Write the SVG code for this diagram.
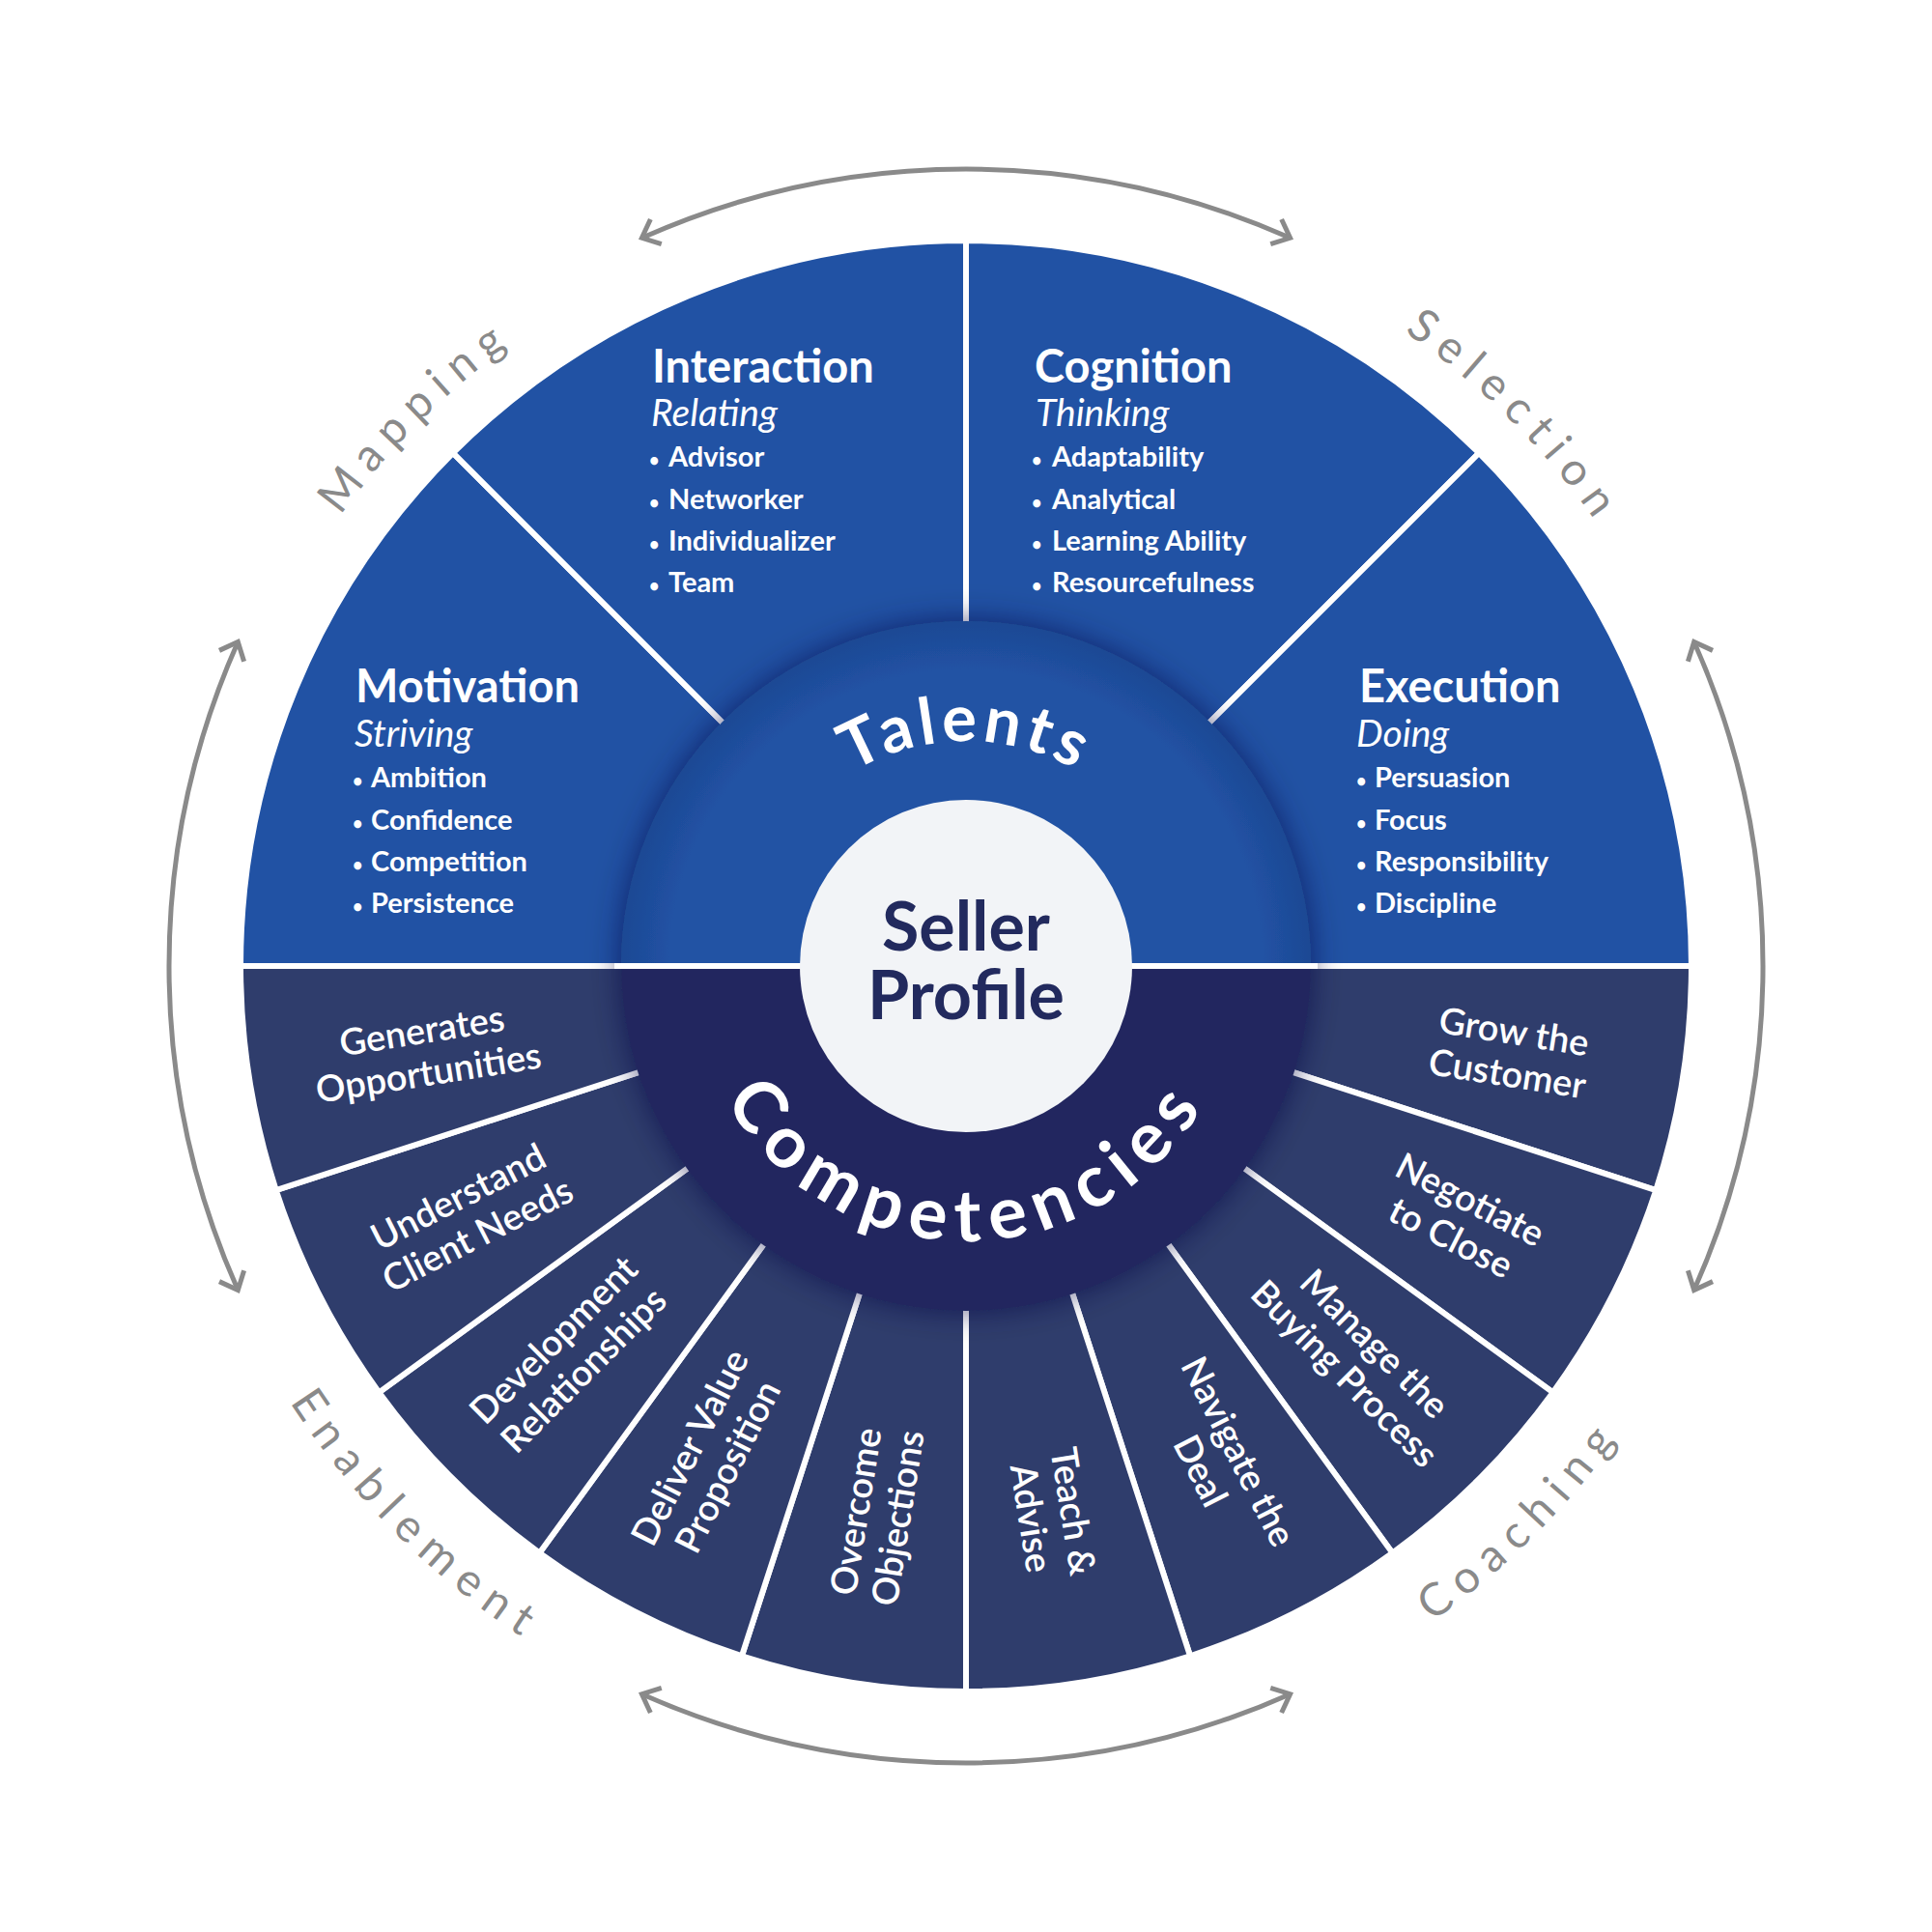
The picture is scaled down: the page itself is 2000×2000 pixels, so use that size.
<svg xmlns="http://www.w3.org/2000/svg" width="2000" height="2000" viewBox="0 0 2000 2000">
<defs>
<style>
.top{fill:#2152a4;stroke:#fff;stroke-width:6}
.bot{fill:#2f3d6c;stroke:#fff;stroke-width:6}
.h{font-family:Lato,"Open Sans",sans-serif;font-weight:700;font-size:47px;fill:#fff}
.sub{font-family:Lato,"Open Sans",sans-serif;font-style:italic;font-weight:400;font-size:39px;fill:#fff}
.li{font-family:Lato,"Open Sans",sans-serif;font-weight:700;font-size:29px;fill:#fff}
.bul{font-size:18px}
.seg{font-family:Lato,"Open Sans",sans-serif;font-weight:600;font-size:38px;fill:#fff;text-anchor:middle}
.lab{font-family:Lato,"Open Sans",sans-serif;font-weight:400;font-size:47px;fill:#8a8a8a;letter-spacing:11px}
.ring{font-family:Lato,"Open Sans",sans-serif;font-weight:700;fill:#fff}
.arc{fill:none;stroke:#8a8a8a;stroke-width:5;marker-start:url(#ah);marker-end:url(#ah)}
.core{font-family:Lato,"Open Sans",sans-serif;font-weight:700;font-size:70px;fill:#222a5e;text-anchor:middle}
</style>
<marker id="ah" viewBox="-24 -20 30 40" refX="0" refY="0" markerWidth="30" markerHeight="40" markerUnits="userSpaceOnUse" orient="auto-start-reverse">
<path d="M-16,-14 L0,0 L-16,14" fill="none" stroke="#8a8a8a" stroke-width="5"/>
</marker>
<filter id="ringShadow" x="-30%" y="-30%" width="160%" height="160%">
<feDropShadow dx="0" dy="0" stdDeviation="16" flood-color="#0e1640" flood-opacity="0.6"/>
</filter>
<radialGradient id="ringTopG" cx="1000" cy="1000" r="357" gradientUnits="userSpaceOnUse">
<stop offset="0.86" stop-color="#2152a4"/>
<stop offset="1" stop-color="#1d4994"/>
</radialGradient>
<path id="pMapping" d="M202,1000 A798,798 0 0 1 1000,202"/>
<path id="pSelection" d="M1000,202 A798,798 0 0 1 1798,1000"/>
<path id="pEnablement" d="M167,1000 A833,833 0 0 0 1000,1833"/>
<path id="pCoaching" d="M1000,1833 A833,833 0 0 0 1833,1000"/>
<path id="pTalents" d="M767,1000 A233,233 0 0 1 1233,1000"/>
<path id="pComp" d="M715,1000 A285,285 0 0 0 1285,1000"/>
</defs>
<rect width="2000" height="2000" fill="#fff"/>

<!-- Talent sectors -->
<g id="motivation">
<path class="top" d="M1000,1000 L249,1000 A751,751 0 0 1 468.96,468.96 Z"/>
<text class="h" x="368" y="727">Motivation</text>
<text class="sub" x="367" y="773">Striving</text>
<text class="li" y="815"><tspan class="bul" x="365">•</tspan><tspan x="384">Ambition</tspan></text>
<text class="li" y="859"><tspan class="bul" x="365">•</tspan><tspan x="384">Confidence</tspan></text>
<text class="li" y="902"><tspan class="bul" x="365">•</tspan><tspan x="384">Competition</tspan></text>
<text class="li" y="945"><tspan class="bul" x="365">•</tspan><tspan x="384">Persistence</tspan></text>
</g>
<g id="interaction">
<path class="top" d="M1000,1000 L468.96,468.96 A751,751 0 0 1 1000,249 Z"/>
<text class="h" x="675" y="396">Interaction</text>
<text class="sub" x="674" y="441">Relating</text>
<text class="li" y="483"><tspan class="bul" x="672">•</tspan><tspan x="692">Advisor</tspan></text>
<text class="li" y="527"><tspan class="bul" x="672">•</tspan><tspan x="692">Networker</tspan></text>
<text class="li" y="570"><tspan class="bul" x="672">•</tspan><tspan x="692">Individualizer</tspan></text>
<text class="li" y="613"><tspan class="bul" x="672">•</tspan><tspan x="692">Team</tspan></text>
</g>
<g id="cognition">
<path class="top" d="M1000,1000 L1000,249 A751,751 0 0 1 1531.04,468.96 Z"/>
<text class="h" x="1071" y="396">Cognition</text>
<text class="sub" x="1072" y="441">Thinking</text>
<text class="li" y="483"><tspan class="bul" x="1068">•</tspan><tspan x="1089">Adaptability</tspan></text>
<text class="li" y="527"><tspan class="bul" x="1068">•</tspan><tspan x="1089">Analytical</tspan></text>
<text class="li" y="570"><tspan class="bul" x="1068">•</tspan><tspan x="1089">Learning Ability</tspan></text>
<text class="li" y="613"><tspan class="bul" x="1068">•</tspan><tspan x="1089">Resourcefulness</tspan></text>
</g>
<g id="execution">
<path class="top" d="M1000,1000 L1531.04,468.96 A751,751 0 0 1 1751,1000 Z"/>
<text class="h" x="1407" y="727">Execution</text>
<text class="sub" x="1404" y="773">Doing</text>
<text class="li" y="815"><tspan class="bul" x="1404">•</tspan><tspan x="1423">Persuasion</tspan></text>
<text class="li" y="859"><tspan class="bul" x="1404">•</tspan><tspan x="1423">Focus</tspan></text>
<text class="li" y="902"><tspan class="bul" x="1404">•</tspan><tspan x="1423">Responsibility</tspan></text>
<text class="li" y="945"><tspan class="bul" x="1404">•</tspan><tspan x="1423">Discipline</tspan></text>
</g>

<!-- Competency sectors -->
<g id="grow-the-customer">
<path class="bot" d="M1000,1000 L1751,1000 A751,751 0 0 1 1714.24,1232.07 Z"/>
<text class="seg" transform="translate(1564,1089) rotate(9)"><tspan x="0" y="-8">Grow the</tspan><tspan x="0" y="36">Customer</tspan></text>
</g>
<g id="negotiate-to-close">
<path class="bot" d="M1000,1000 L1714.24,1232.07 A751,751 0 0 1 1607.57,1441.43 Z"/>
<text class="seg" transform="translate(1512.3,1261) rotate(27)"><tspan x="0" y="-8">Negotiate</tspan><tspan x="0" y="36">to Close</tspan></text>
</g>
<g id="manage-the-buying-process">
<path class="bot" d="M1000,1000 L1607.57,1441.43 A751,751 0 0 1 1441.43,1607.57 Z"/>
<text class="seg" transform="translate(1408,1406) rotate(45)"><tspan x="0" y="-8">Manage the</tspan><tspan x="0" y="36">Buying Process</tspan></text>
</g>
<g id="navigate-the-deal">
<path class="bot" d="M1000,1000 L1441.43,1607.57 A751,751 0 0 1 1232.07,1714.24 Z"/>
<text class="seg" transform="translate(1263,1512.3) rotate(63)"><tspan x="0" y="-8">Navigate the</tspan><tspan x="0" y="36">Deal</tspan></text>
</g>
<g id="teach-and-advise">
<path class="bot" d="M1000,1000 L1232.07,1714.24 A751,751 0 0 1 1000,1751 Z"/>
<text class="seg" transform="translate(1089.9,1567.9) rotate(81)"><tspan x="0" y="-8">Teach &amp;</tspan><tspan x="0" y="36">Advise</tspan></text>
</g>
<g id="overcome-objections">
<path class="bot" d="M1000,1000 L1000,1751 A751,751 0 0 1 767.93,1714.24 Z"/>
<text class="seg" transform="translate(907,1567.9) rotate(-81)"><tspan x="0" y="-8">Overcome</tspan><tspan x="0" y="36">Objections</tspan></text>
</g>
<g id="deliver-value-proposition">
<path class="bot" d="M1000,1000 L767.93,1714.24 A751,751 0 0 1 558.57,1607.57 Z"/>
<text class="seg" transform="translate(733,1508) rotate(-63)"><tspan x="0" y="-8">Deliver Value</tspan><tspan x="0" y="36">Proposition</tspan></text>
</g>
<g id="development-relationships">
<path class="bot" d="M1000,1000 L558.57,1607.57 A751,751 0 0 1 392.43,1441.43 Z"/>
<text class="seg" transform="translate(588,1402) rotate(-45)"><tspan x="0" y="-8">Development</tspan><tspan x="0" y="36">Relationships</tspan></text>
</g>
<g id="understand-client-needs">
<path class="bot" d="M1000,1000 L392.43,1441.43 A751,751 0 0 1 285.76,1232.07 Z"/>
<text class="seg" transform="translate(484,1258) rotate(-27)"><tspan x="0" y="-8">Understand</tspan><tspan x="0" y="36">Client Needs</tspan></text>
</g>
<g id="generates-opportunities">
<path class="bot" d="M1000,1000 L285.76,1232.07 A751,751 0 0 1 249,1000 Z"/>
<text class="seg" transform="translate(440,1088) rotate(-9)"><tspan x="0" y="-8">Generates</tspan><tspan x="0" y="36">Opportunities</tspan></text>
</g>

<!-- Cycle connectors -->
<g id="connectors">
<path class="arc" d="M664.44,246.32 A825,825 0 0 1 1335.56,246.32"/>
<path class="arc" d="M1753.68,664.44 A825,825 0 0 1 1753.68,1335.56"/>
<path class="arc" d="M1335.56,1753.68 A825,825 0 0 1 664.44,1753.68"/>
<path class="arc" d="M246.32,1335.56 A825,825 0 0 1 246.32,664.44"/>
</g>
<g id="cycle-labels">
<text class="lab"><textPath href="#pMapping" startOffset="50%" text-anchor="middle">Mapping</textPath></text>
<text class="lab"><textPath href="#pSelection" startOffset="50%" text-anchor="middle">Selection</textPath></text>
<text class="lab"><textPath href="#pEnablement" startOffset="50%" text-anchor="middle">Enablement</textPath></text>
<text class="lab"><textPath href="#pCoaching" startOffset="50%" text-anchor="middle">Coaching</textPath></text>
</g>

<!-- Core ring -->
<g id="talents-competencies">
<g filter="url(#ringShadow)">
<path d="M643,1000 A357,357 0 0 1 1357,1000 Z" fill="url(#ringTopG)"/>
<path d="M643,1000 A357,357 0 0 0 1357,1000 Z" fill="#20275f"/>
</g>
<line x1="636" y1="1000" x2="1364" y2="1000" stroke="#fff" stroke-width="6"/>
<text class="ring" font-size="67" letter-spacing="5"><textPath href="#pTalents" startOffset="50%" text-anchor="middle">Talents</textPath></text>
<text class="ring" font-size="75" letter-spacing="11"><textPath href="#pComp" startOffset="50%" text-anchor="middle">Competencies</textPath></text>
</g>
<g id="seller-profile">
<circle cx="1000" cy="1000" r="172" fill="#f2f4f7"/>
<text class="core" x="1000" y="984">Seller</text>
<text class="core" x="1000" y="1055">Profile</text>
</g>
</svg>
